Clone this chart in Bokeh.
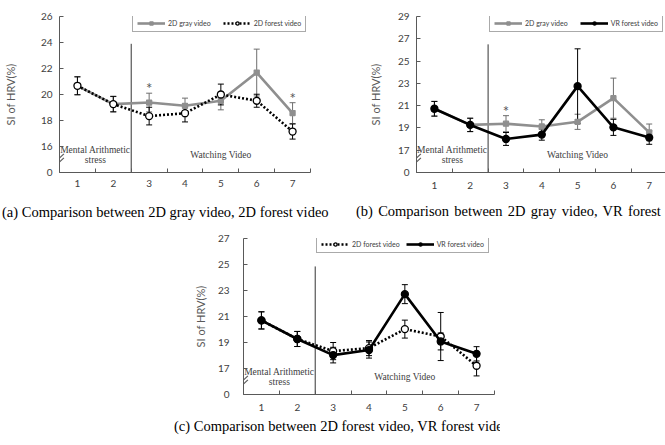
from bokeh.plotting import figure
from bokeh.layouts import column, row
from bokeh.models import (ColumnDataSource, Whisker, TeeHead, FixedTicker, Legend,
                          LegendItem, Range1d, Spacer, Div)
from bokeh.core.properties import value
from bokeh.embed import file_html
from bokeh.resources import INLINE

# Measurement sessions (1-2: mental arithmetic stress, 3-7: watching video)
sessions = [1, 2, 3, 4, 5, 6, 7]
session_labels = ["1", "2", "3", "4", "5", "6", "7"]

# (a) 2D gray video vs 2D forest video
a_gray_mean = [20.67, 19.26, 19.38, 19.13, 19.52, 21.69, 18.57]
a_gray_err = [0.69, 0.58, 0.72, 0.59, 0.70, 1.80, 0.80]
a_forest_mean = [20.67, 19.26, 18.34, 18.56, 20.00, 19.52, 17.15]
a_forest_err = [0.69, 0.60, 0.68, 0.67, 0.80, 0.50, 0.58]
a_sig = [3, 7]
a_yticks = [14, 16, 18, 20, 22, 24, 26]
a_ytick_labels = ["0", "16", "18", "20", "22", "24", "26"]

# (b) 2D gray video vs VR forest video
b_gray_mean = [20.72, 19.27, 19.38, 19.13, 19.55, 21.67, 18.60]
b_gray_err = [0.66, 0.60, 0.72, 0.60, 0.68, 1.80, 0.75]
b_vr_mean = [20.72, 19.27, 18.01, 18.40, 22.75, 19.05, 18.13]
b_vr_err = [0.66, 0.60, 0.58, 0.50, 3.35, 0.72, 0.60]
b_sig = [3]
b_yticks = [15, 17, 19, 21, 23, 25, 27, 29]
b_ytick_labels = ["0", "17", "19", "21", "23", "25", "27", "29"]

# (c) 2D forest video vs VR forest video
c_forest_mean = [20.70, 19.27, 18.34, 18.57, 20.03, 19.46, 17.21]
c_forest_err = [0.66, 0.58, 0.66, 0.58, 0.69, 1.85, 0.78]
c_vr_mean = [20.70, 19.27, 18.03, 18.42, 22.72, 19.08, 18.13]
c_vr_err = [0.66, 0.58, 0.60, 0.62, 0.73, 0.65, 0.55]
c_sig = []
c_yticks = [15, 17, 19, 21, 23, 25, 27]
c_ytick_labels = ["0", "17", "19", "21", "23", "25", "27"]

GRAY = "#8f8f8f"
AXIS = "#595959"
SANS = "Lato"
SERIF = "Liberation Serif"
SANS_V = value(SANS)
SERIF_V = value(SERIF)

STYLES = {
    "2D gray video": dict(color=GRAY, dash="solid", marker="square", size=5,
                          fill=GRAY, bar="#6e6e6e"),
    "2D forest video": dict(color="black", dash="2 2", marker="circle", size=7,
                            fill="white", bar="black"),
    "VR forest video": dict(color="black", dash="solid", marker="circle", size=7,
                            fill="black", bar="black"),
}


def build_panel(series, sig, yticks, ytick_labels, sep_top, width, height, x_end,
                left, right, ylab_standoff, ytick_standoff, xtick_standoff,
                legend_xy, legend_spacing=12, frame_h=156, top=16):
    y0, y1 = yticks[0], yticks[-1]
    p = figure(width=width, height=height, x_range=Range1d(0.5, x_end),
               y_range=Range1d(y0, y1), output_backend="svg", toolbar_location=None,
               min_border_left=left, min_border_right=right, min_border_top=top,
               min_border_bottom=height - top - frame_h)
    p.outline_line_color = None
    p.grid.visible = False
    p.background_fill_color = "white"
    p.border_fill_color = "white"

    # x axis: labels at sessions, small inward ticks between categories
    xa = p.xaxis[0]
    xa.ticker = FixedTicker(ticks=sessions,
                            minor_ticks=[s - 0.5 for s in sessions] + [sessions[-1] + 0.5])
    xa.major_label_overrides = {s: l for s, l in zip(sessions, session_labels)}
    xa.major_tick_in = 0
    xa.major_tick_out = 0
    xa.minor_tick_in = 4
    xa.minor_tick_out = 0
    xa.minor_tick_line_color = AXIS
    xa.axis_line_color = AXIS
    xa.major_label_text_font = SANS
    xa.major_label_text_font_size = "10px"
    xa.major_label_text_color = "#404040"
    xa.major_label_standoff = xtick_standoff

    # y axis with a broken segment below the first labelled value
    ya = p.yaxis[0]
    ya.ticker = FixedTicker(ticks=yticks)
    ya.major_label_overrides = {t: l for t, l in zip(yticks, ytick_labels)}
    ya.minor_tick_line_color = None
    ya.major_tick_in = 4
    ya.major_tick_out = 0
    ya.major_tick_line_color = AXIS
    ya.axis_line_color = AXIS
    ya.major_label_text_font = SANS
    ya.major_label_text_font_size = "10px"
    ya.major_label_text_color = "#404040"
    ya.major_label_standoff = ytick_standoff
    ya.axis_label = "SI of HRV(%)"
    ya.axis_label_text_font = SANS
    ya.axis_label_text_font_size = "11px"
    ya.axis_label_text_font_style = "normal"
    ya.axis_label_text_color = "#595959"
    ya.axis_label_standoff = ylab_standoff

    ppu = frame_h / (y1 - y0)
    p.scatter(x=[0.5, 0.5], y=[y0 + 10.5 / ppu, y0 + 14.5 / ppu], marker="dash",
              size=12, angle=0.75, line_color=AXIS, line_width=1.2)

    # boundary between the stress phase and the video phase
    p.segment(x0=[2.5], y0=[y0], x1=[2.5], y1=[sep_top], line_color="#333333", line_width=1)
    p.text(x=[1.5], y=[y0], text=["Mental Arithmetic\nstress"], y_offset=-17.5,
           text_align="center", text_baseline="middle", text_font=SERIF_V,
           text_font_size="9.5px", text_color="#404040", text_line_height=1.0)
    p.text(x=[5], y=[y0], text=["Watching Video"], y_offset=-18,
           text_align="center", text_baseline="middle", text_font=SERIF_V,
           text_font_size="9.5px", text_color="#404040")

    items = []
    for name, mean, err in series:
        st = STYLES[name]
        src = ColumnDataSource(dict(x=sessions, y=mean,
                                    upper=[m + e for m, e in zip(mean, err)],
                                    lower=[m - e for m, e in zip(mean, err)]))
        w = Whisker(base="x", upper="upper", lower="lower", source=src,
                    line_color=st["bar"], line_width=1,
                    upper_head=TeeHead(size=6, line_color=st["bar"], line_width=1),
                    lower_head=TeeHead(size=6, line_color=st["bar"], line_width=1))
        p.add_layout(w)
        ln = p.line("x", "y", source=src, line_color=st["color"], line_width=2.6,
                    line_dash=st["dash"])
        sc = p.scatter("x", "y", source=src, marker=st["marker"], size=st["size"],
                       line_color=st["color"], fill_color=st["fill"], line_width=1.3)
        items.append(LegendItem(label=name, renderers=[ln, sc]))

    # significance marks above the first series' upper error bar
    if sig:
        name, mean, err = series[0]
        sy = [mean[sessions.index(s)] + err[sessions.index(s)] for s in sig]
        p.text(x=sig, y=sy, text=["*"] * len(sig), y_offset=4,
               text_align="center", text_baseline="bottom", text_font=SANS_V,
               text_font_size="15px", text_color="#555555")

    leg = Legend(items=items, location=legend_xy, orientation="horizontal",
                 border_line_color="#555555", border_line_width=1,
                 background_fill_color="white", background_fill_alpha=1,
                 padding=4, spacing=legend_spacing, margin=0, label_standoff=3,
                 glyph_width=28, glyph_height=8, label_height=8,
                 label_text_font=SANS, label_text_font_size="7px",
                 label_text_color="#404040")
    p.add_layout(leg)
    return p


def caption_div(text, width, height, pad_left, center_y, word_spacing=0.0):
    html = ('<div style="padding-left:%dpx; font-family:\'%s\'; font-size:14.5px; '
            'line-height:%dpx; white-space:nowrap; word-spacing:%.1fpx; color:black;">%s</div>'
            % (pad_left, SERIF, 2 * center_y, word_spacing, text))
    return Div(text=html, width=width, height=height,
               styles={"overflow": "hidden", "margin": "0", "padding": "0"})


pa = build_panel([("2D gray video", a_gray_mean, a_gray_err),
                  ("2D forest video", a_forest_mean, a_forest_err)],
                 a_sig, a_yticks, a_ytick_labels, sep_top=23.9, width=330, height=198,
                 x_end=7.5, left=59, right=20, ylab_standoff=21, ytick_standoff=7,
                 xtick_standoff=7, legend_xy=(73, 140))
da = caption_div("(a) Comparison between 2D gray video, 2D forest video",
                 330, 24, 2, 14)

pb = build_panel([("2D gray video", b_gray_mean, b_gray_err),
                  ("VR forest video", b_vr_mean, b_vr_err)],
                 b_sig, b_yticks, b_ytick_labels, sep_top=26.5, width=335, height=198,
                 x_end=7.455, left=86, right=0, ylab_standoff=13, ytick_standoff=7,
                 xtick_standoff=9, legend_xy=(73, 140))
db = caption_div("(b) Comparison between 2D gray video, VR forest video",
                 335, 24, 26, 13, word_spacing=1.6)

pc = build_panel([("2D forest video", c_forest_mean, c_forest_err),
                  ("VR forest video", c_vr_mean, c_vr_err)],
                 c_sig, c_yticks, c_ytick_labels, sep_top=24.85, width=330, height=194,
                 x_end=7.5, left=73, right=6, ylab_standoff=8, ytick_standoff=14,
                 xtick_standoff=9, legend_xy=(73, 141), legend_spacing=6)
dc = caption_div("(c) Comparison between 2D forest video, VR forest video",
                 330, 29, 4, 10)

layout = column(row(column(pa, da), column(pb, db)),
                row(Spacer(width=170, height=223), column(pc, dc)))
open("out.html", "w").write(file_html(layout, INLINE))
